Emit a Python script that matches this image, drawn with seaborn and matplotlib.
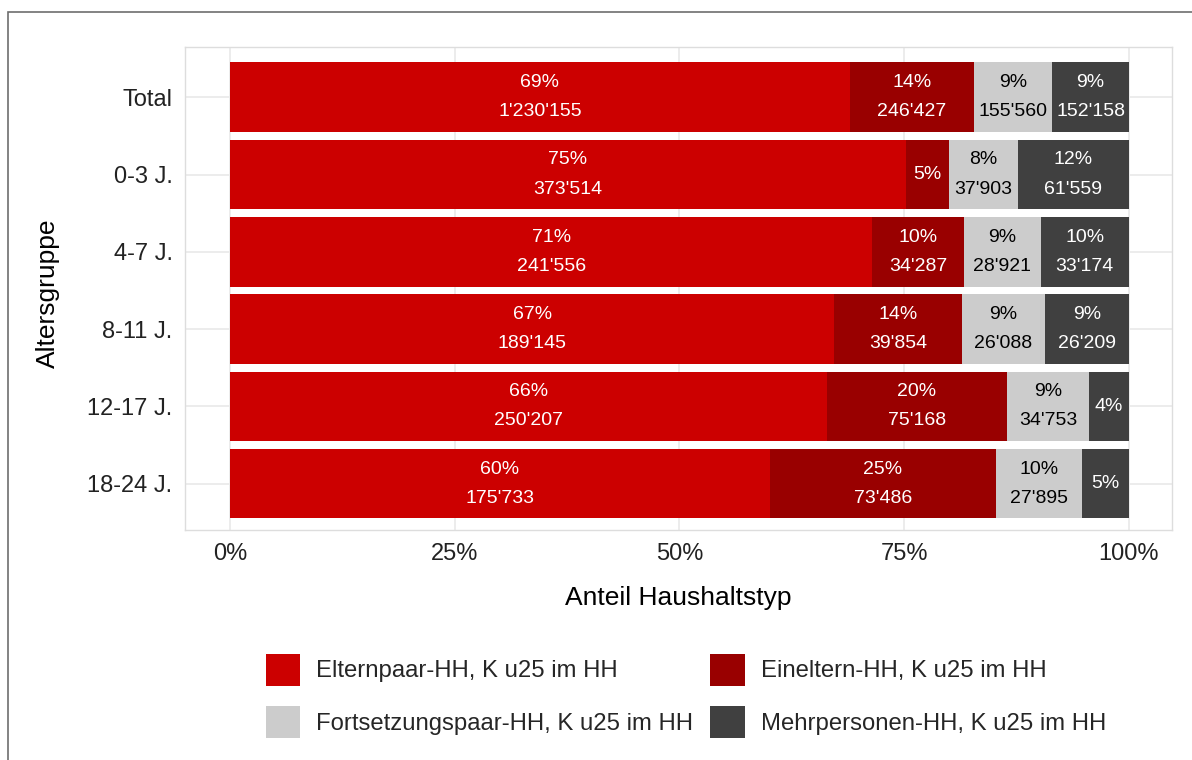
import pandas as pd
import seaborn as sns
import matplotlib.pyplot as plt
from matplotlib.patches import Patch, Rectangle

# Daten
gruppen = ['Total', '0-3 J.', '4-7 J.', '8-11 J.', '12-17 J.', '18-24 J.']
typen = ['Elternpaar-HH, K u25 im HH', 'Eineltern-HH, K u25 im HH',
         'Fortsetzungspaar-HH, K u25 im HH', 'Mehrpersonen-HH, K u25 im HH']
farben = ['#CC0000', '#990000', '#CCCCCC', '#404040']
textfarben = ['white', 'white', 'black', 'white']

elternpaar = [1230155, 373514, 241556, 189145, 250207, 175733]
eineltern = [246427, 24000, 34287, 39854, 75168, 73486]
fortsetzung = [155560, 37903, 28921, 26088, 34753, 27895]
mehrpersonen = [152158, 61559, 33174, 26209, 16500, 15400]

df = pd.DataFrame({'Altersgruppe': gruppen,
                   typen[0]: elternpaar, typen[1]: eineltern,
                   typen[2]: fortsetzung, typen[3]: mehrpersonen})
anteile = df[typen].div(df[typen].sum(axis=1), axis=0)
kum = anteile.cumsum(axis=1)

sns.set_theme(style='whitegrid')
plt.rcParams['font.family'] = ['Liberation Sans', 'DejaVu Sans']

fig = plt.figure(figsize=(11.92, 7.6), dpi=100)
ax = fig.add_axes([185/1192, 1 - 530/760, 987/1192, 483/760])

# gestapelte Balken: kumulierte Anteile von hinten nach vorne zeichnen
for i in reversed(range(len(typen))):
    sns.barplot(x=kum[typen[i]], y=df['Altersgruppe'], orient='h',
                color=farben[i], saturation=1, width=0.9, linewidth=0, ax=ax)

# Beschriftungen
for r in range(len(gruppen)):
    for i, typ in enumerate(typen):
        a = anteile.iloc[r, i]
        mitte = kum.iloc[r, i] - a / 2
        pct = f'{a * 100:.0f}%'
        if a < 0.06:
            ax.text(mitte, r, pct, ha='center', va='center',
                    color=textfarben[i], fontsize=14)
        else:
            n = f'{df[typ].iloc[r]:,}'.replace(',', "'")
            ax.annotate(pct, (mitte, r), xytext=(0, 10.5), textcoords='offset points',
                        ha='center', va='center', color=textfarben[i], fontsize=14)
            ax.annotate(n, (mitte, r), xytext=(0, -10.5), textcoords='offset points',
                        ha='center', va='center', color=textfarben[i], fontsize=14)

ax.set_xlim(-0.05, 1.048)
ax.set_ylim(5.6, -0.65)
ax.set_xticks([0, 0.25, 0.5, 0.75, 1])
ax.set_xticklabels(['0%', '25%', '50%', '75%', '100%'])
ax.tick_params(axis='both', length=0, pad=9, labelsize=17, labelcolor='#222222')
ax.grid(True, color='#EBEBEB', linewidth=1.3)
for s in ax.spines.values():
    s.set_color('#DDDDDD')
    s.set_linewidth(1)

ax.set_xlabel('Anteil Haushaltstyp', fontsize=19, color='black', va='center')
ax.set_ylabel('Altersgruppe', fontsize=19, color='black', va='center')
ax.xaxis.set_label_coords(0.5, (530 - 598) / 483)
ax.yaxis.set_label_coords((48 - 185) / 987, 0.49)

# Legende
handles = [Patch(facecolor=farben[i], edgecolor='none') for i in [0, 2, 1, 3]]
labels = [typen[i] for i in [0, 2, 1, 3]]
fig.legend(handles, labels, ncol=2, loc='center',
           bbox_to_anchor=(686 / 1192, 1 - 696 / 760), frameon=False, fontsize=17.2,
           handlelength=1.44, handleheight=1.7, handletextpad=0.68,
           columnspacing=0.72, labelspacing=0.85)

# Rahmen um die Grafik
fig.add_artist(Rectangle((8 / 1192, -0.1), 1.5, 1 - 12 / 760 + 0.1,
                         transform=fig.transFigure, fill=False,
                         edgecolor='#6E6E6E', linewidth=1.2))

fig.savefig('out.png', dpi=100)
